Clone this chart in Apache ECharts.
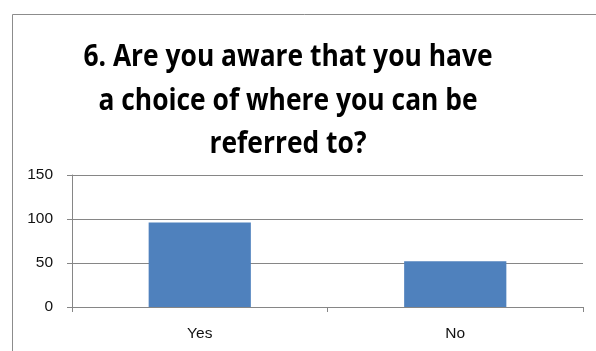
<!DOCTYPE html>
<html>
<head>
<meta charset="utf-8">
<script src="https://cdn.jsdelivr.net/npm/echarts@6/dist/echarts.min.js"></script>
<style>
  html, body { margin: 0; padding: 0; background: #fff; }
  #chart { width: 596px; height: 351px; }
</style>
</head>
<body>
<div id="chart"></div>
<script>
// Survey question 6: awareness of choice of referral destination
const titleLines = ['6. Are you aware that you have', 'a choice of where you can be', 'referred to?'];
const categories = ['Yes', 'No'];
const responses = [96, 52];
const yTicks = { min: 0, max: 150, interval: 50 };

const chart = echarts.init(document.getElementById('chart'), null, { renderer: 'canvas' });

chart.setOption({
  animation: false,
  backgroundColor: '#ffffff',
  graphic: [
    {
      type: 'rect',
      shape: { x: 12.5, y: 14.5, width: 700, height: 500 },
      style: { fill: 'none', stroke: '#8c8c8c', lineWidth: 1 },
      silent: true,
      z: -1
    },
    {
      // condensed bold title, three centred lines
      type: 'text',
      x: 288,
      y: 36,
      scaleX: 0.88,
      style: {
        text: titleLines.join('\n'),
        fontFamily: 'Open Sans',
        fontWeight: 'bold',
        fontSize: 30,
        lineHeight: 43.5,
        fill: '#000000',
        align: 'center',
        verticalAlign: 'top'
      }
    }
  ],
  grid: { left: 72, right: 13, top: 175, bottom: 44, containLabel: false },
  xAxis: {
    type: 'category',
    data: categories,
    boundaryGap: true,
    axisLine: { show: true, lineStyle: { color: '#868686', width: 1 } },
    axisTick: { show: true, length: 5, alignWithLabel: false, lineStyle: { color: '#868686' } },
    axisLabel: { color: '#111', fontFamily: 'Liberation Sans', fontSize: 15.5, margin: 19 },
    splitLine: { show: false }
  },
  yAxis: {
    type: 'value',
    min: yTicks.min,
    max: yTicks.max,
    interval: yTicks.interval,
    axisLine: { show: true, lineStyle: { color: '#868686', width: 1 } },
    axisTick: { show: true, length: 5, lineStyle: { color: '#868686' } },
    axisLabel: { color: '#111', fontFamily: 'Liberation Sans', fontSize: 15.5, margin: 19 },
    splitLine: { show: true, lineStyle: { color: '#868686', width: 1 } }
  },
  series: [
    {
      type: 'bar',
      data: responses,
      barWidth: '40%',
      itemStyle: { color: '#4f81bd' }
    }
  ]
});
</script>
</body>
</html>
